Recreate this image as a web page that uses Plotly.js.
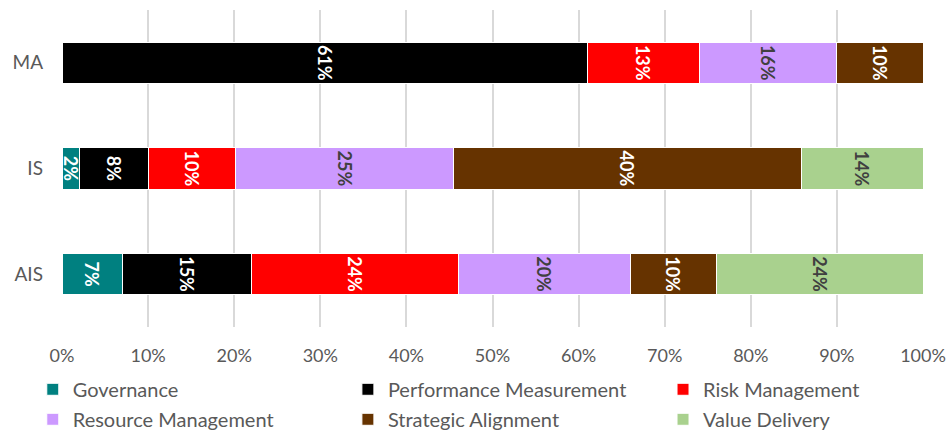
<!DOCTYPE html>
<html>
<head>
<meta charset="utf-8">
<script src="https://cdn.plot.ly/plotly-3.0.1.min.js"></script>
<style>
  html, body { margin: 0; padding: 0; background: #ffffff; }
  #chart { width: 950px; height: 431px; }
</style>
</head>
<body>
<div id="chart"></div>
<script>
// Programme categories (bottom to top on the y axis)
const categories = ['AIS', 'IS', 'MA'];

// Share of each governance focus area per programme (%)
const governance       = [7, 2, null];
const performance      = [15, 8, 61];
const riskManagement   = [24, 10, 13];
const resourceMgmt     = [20, 25, 16];
const strategicAlign   = [10, 40, 10];
const valueDelivery    = [24, 14, null];

// Axis ticks
const xTickVals = [0, 10, 20, 30, 40, 50, 60, 70, 80, 90, 100];
const xTickText = ['0%', '10%', '20%', '30%', '40%', '50%', '60%', '70%', '80%', '90%', '100%'];

const FONT = 'Lato, "Open Sans", "Noto Sans", sans-serif';
const LIGHT = '#ffffff';
const DARK = '#404040';

const series = [
  { name: 'Governance',              values: governance,     color: '#008080', text: LIGHT, legend: 'legend'  },
  { name: 'Performance Measurement', values: performance,    color: '#000000', text: LIGHT, legend: 'legend2' },
  { name: 'Risk Management',         values: riskManagement, color: '#FF0000', text: LIGHT, legend: 'legend3' },
  { name: 'Resource Management',     values: resourceMgmt,   color: '#CC99FF', text: DARK,  legend: 'legend'  },
  { name: 'Strategic Alignment',     values: strategicAlign, color: '#663300', text: LIGHT, legend: 'legend2' },
  { name: 'Value Delivery',          values: valueDelivery,  color: '#A9D18E', text: DARK,  legend: 'legend3' }
];

const traces = series.map(s => ({
  type: 'bar',
  orientation: 'h',
  name: s.name,
  legend: s.legend,
  legendgroup: s.name,
  y: categories,
  x: s.values,
  text: s.values.map(v => (v === null ? '' : v + '%')),
  texttemplate: '%{text}',
  textposition: 'inside',
  insidetextanchor: 'middle',
  textangle: 90,
  constraintext: 'none',
  textfont: { family: FONT, size: 18, color: s.text, weight: 'bold' },
  marker: { color: s.color, line: { color: '#ffffff', width: 1 } },
  width: 0.39,
  hoverinfo: 'name+x'
}));

const legendCommon = {
  orientation: 'v',
  xanchor: 'left',
  yanchor: 'top',
  y: -0.135,
  traceorder: 'grouped',
  tracegroupgap: 1,
  indentation: -9,
  font: { family: FONT, size: 20, color: '#595959' },
  bgcolor: 'rgba(0,0,0,0)',
  itemclick: false,
  itemdoubleclick: false
};

const layout = {
  width: 950,
  height: 431,
  margin: { l: 62, r: 27, t: 10, b: 104, autoexpand: false },
  paper_bgcolor: '#ffffff',
  plot_bgcolor: '#ffffff',
  barmode: 'stack',
  barnorm: 'percent',
  font: { family: FONT, size: 18, color: '#595959' },
  xaxis: {
    range: [0, 100],
    tickvals: xTickVals,
    ticktext: xTickText,
    showgrid: true,
    gridcolor: '#d9d9d9',
    gridwidth: 2,
    zeroline: false,
    showline: false,
    ticks: '',
    ticklabelstandoff: 16,
    tickfont: { family: FONT, size: 18, color: '#595959' },
    fixedrange: true,
    automargin: false
  },
  yaxis: {
    type: 'category',
    categoryorder: 'array',
    categoryarray: categories,
    showgrid: false,
    zeroline: false,
    showline: false,
    ticks: '',
    ticklabelstandoff: 18,
    tickfont: { family: FONT, size: 19, color: '#595959' },
    fixedrange: true,
    automargin: false
  },
  showlegend: true,
  legend:  Object.assign({}, legendCommon, { x: -0.0235 }),
  legend2: Object.assign({}, legendCommon, { x: 0.3425 }),
  legend3: Object.assign({}, legendCommon, { x: 0.7085 })
};

Plotly.newPlot('chart', traces, layout, { displayModeBar: false, staticPlot: true });
</script>
</body>
</html>
